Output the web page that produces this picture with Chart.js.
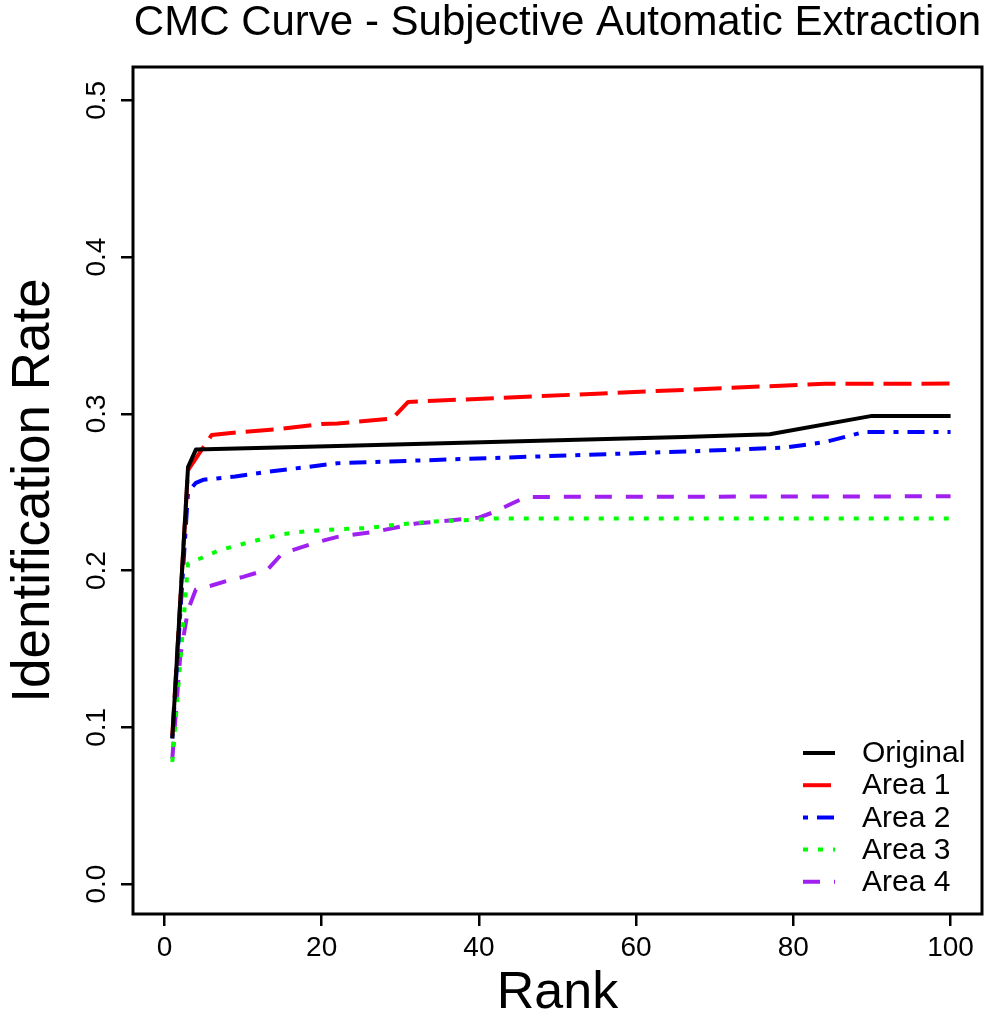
<!DOCTYPE html>
<html>
<head>
<meta charset="utf-8">
<script src="https://cdn.jsdelivr.net/npm/chart.js@4"></script>
<style>
  html, body { margin: 0; padding: 0; background: #fff; }
  #wrap { width: 990px; height: 1020px; }
</style>
</head>
<body>
<div id="wrap"><canvas id="cmcChart" width="990" height="1020"></canvas></div>
<script>
// Rank / identification rate values
const rankTicks = [0, 20, 40, 60, 80, 100];
const rateTicks = [0, 0.1, 0.2, 0.3, 0.4, 0.5];

const seriesNames = ["Original", "Area 1", "Area 2", "Area 3", "Area 4"];

const originalRanks = [1, 3, 4, 22, 66, 77, 90, 100];
const originalRates = [0.093, 0.266, 0.2772, 0.2795, 0.2853, 0.287, 0.2987, 0.2987];

const area1Ranks = [1, 3, 6, 10, 15, 20, 22, 29, 31, 67, 84, 100];
const area1Rates = [0.095, 0.264, 0.2865, 0.2885, 0.2905, 0.2935, 0.2938, 0.297, 0.3076, 0.3155, 0.3192, 0.3193];

const area2Ranks = [1, 3, 4, 5, 9, 13, 18, 22, 67, 79, 84, 89, 100];
const area2Rates = [0.093, 0.25, 0.256, 0.258, 0.26, 0.263, 0.266, 0.2685, 0.2761, 0.2785, 0.282, 0.2884, 0.2885];

const area3Ranks = [1, 3, 5, 7, 9, 11, 13, 15, 18, 22, 26, 30, 34, 38, 42, 100];
const area3Rates = [0.078, 0.2045, 0.2087, 0.213, 0.2157, 0.2183, 0.221, 0.2232, 0.2251, 0.2264, 0.2272, 0.2296, 0.2313, 0.2321, 0.2332, 0.2332];

const area4Ranks = [1, 2, 3, 4, 6, 8, 10, 12, 13, 15, 19, 22, 27, 32, 38, 40, 42, 44, 46, 100];
const area4Rates = [0.08, 0.145, 0.175, 0.188, 0.1905, 0.1935, 0.196, 0.199, 0.2, 0.211, 0.2175, 0.2215, 0.225, 0.23, 0.2328, 0.2338, 0.2375, 0.2423, 0.247, 0.2474];

const seriesColors = ["#000000", "#FF0000", "#0000FF", "#00FF00", "#A020F0"];
const seriesDashes = [[], [28, 10], [5, 9, 17, 9], [5, 10], [17, 14]];

const FONT = '"Liberation Sans", Arial, Helvetica, sans-serif';

function pairs(xs, ys) {
  return xs.map((x, i) => ({ x: x, y: ys[i] }));
}

const allRanks = [originalRanks, area1Ranks, area2Ranks, area3Ranks, area4Ranks];
const allRates = [originalRates, area1Rates, area2Rates, area3Rates, area4Rates];

const datasets = seriesNames.map((name, i) => ({
  label: name,
  data: pairs(allRanks[i], allRates[i]),
  borderColor: seriesColors[i],
  backgroundColor: seriesColors[i],
  borderDash: seriesDashes[i],
  borderWidth: 4,
  borderCapStyle: 'butt',
  borderJoinStyle: 'round',
  pointRadius: 0,
  tension: 0,
  fill: false
}));

// box around the plot region, like R's box()
const boxPlugin = {
  id: 'box',
  afterDatasetsDraw(chart) {
    const { ctx, chartArea: a } = chart;
    ctx.save();
    ctx.strokeStyle = '#000';
    ctx.lineWidth = 3;
    ctx.strokeRect(a.left, a.top, a.right - a.left, a.bottom - a.top);
    ctx.restore();
  }
};

// legend in the lower right corner without a frame
const cornerLegend = {
  id: 'cornerLegend',
  afterDraw(chart) {
    const { ctx, chartArea: a } = chart;
    const rowGap = 32.2;
    ctx.save();
    ctx.font = '30px ' + FONT;
    ctx.textBaseline = 'middle';
    ctx.textAlign = 'left';
    chart.data.datasets.forEach((ds, i) => {
      const y = a.bottom - 161 + i * rowGap;
      ctx.beginPath();
      ctx.strokeStyle = ds.borderColor;
      ctx.lineWidth = 4;
      ctx.setLineDash(ds.borderDash);
      ctx.moveTo(a.right - 179, y);
      ctx.lineTo(a.right - 147, y);
      ctx.stroke();
      ctx.setLineDash([]);
      ctx.fillStyle = '#000';
      ctx.fillText(ds.label, a.right - 120, y + 1);
    });
    ctx.restore();
  }
};

new Chart(document.getElementById('cmcChart'), {
  type: 'line',
  data: { datasets: datasets },
  options: {
    responsive: false,
    animation: false,
    layout: { padding: { right: 8, left: 0, top: 0, bottom: 0 } },
    plugins: {
      legend: { display: false },
      tooltip: { enabled: false },
      title: {
        display: true,
        text: 'CMC Curve - Subjective Automatic Extraction',
        fullSize: false,
        color: '#000',
        font: { family: FONT, size: 42, weight: 'normal', lineHeight: 1.0 },
        padding: { top: 2, bottom: 23 }
      }
    },
    scales: {
      x: {
        type: 'linear',
        min: -4,
        max: 104,
        afterBuildTicks: s => { s.ticks = rankTicks.map(v => ({ value: v })); },
        afterFit: s => { s.height = 106; },
        border: { display: false },
        grid: { drawOnChartArea: false, drawTicks: true, tickLength: 12, color: '#000', lineWidth: 2.5 },
        ticks: { color: '#000', padding: 5, maxRotation: 0, font: { family: FONT, size: 28 } },
        title: {
          display: true,
          text: 'Rank',
          color: '#000',
          font: { family: FONT, size: 52, lineHeight: 1.0 },
          padding: { top: 0, bottom: 0 }
        }
      },
      y: {
        type: 'linear',
        min: -0.0191,
        max: 0.5213,
        afterBuildTicks: s => { s.ticks = rateTicks.map(v => ({ value: v })); },
        afterFit: s => { s.width = 133; },
        border: { display: false },
        grid: { drawOnChartArea: false, drawTicks: true, tickLength: 12, color: '#000', lineWidth: 2.5 },
        ticks: {
          color: '#000',
          padding: 4,
          minRotation: 90,
          maxRotation: 90,
          crossAlign: 'center',
          font: { family: FONT, size: 28 },
          callback: v => v.toFixed(1)
        },
        title: {
          display: true,
          text: 'Identification Rate',
          color: '#000',
          font: { family: FONT, size: 53, lineHeight: 1.0 },
          padding: { top: 8, bottom: 0 }
        }
      }
    }
  },
  plugins: [boxPlugin, cornerLegend]
});
</script>
</body>
</html>
